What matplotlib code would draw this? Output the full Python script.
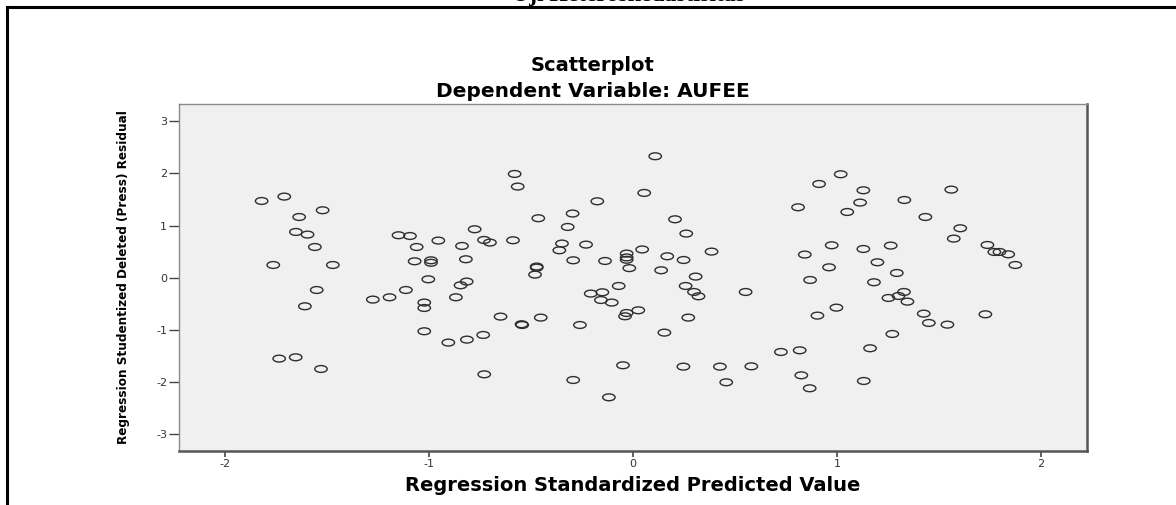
import matplotlib
matplotlib.use('Agg')
import matplotlib.pyplot as plt
from matplotlib import font_manager
from matplotlib.path import Path
from matplotlib.transforms import Affine2D
from matplotlib.lines import Line2D

plt.rcParams['axes.unicode_minus'] = False

# standardized predicted value (x) and studentized deleted residual (y)
pred = [-1.820, -1.709, -1.636, -1.521, -1.652, -1.595, -1.559, -1.763, -1.471, -1.550,
        -1.608, -1.734, -1.653, -1.529, -1.149, -1.093, -1.060, -1.070, -0.990, -0.990,
        -1.003, -1.113, -1.193, -1.275, -1.023, -1.023, -1.023,
        -0.580, -0.565, -0.175, -0.464, -0.296, -0.320, -0.776, -0.954, -0.838, -0.730,
        -0.701, -0.588, -0.348, -0.361, -0.230, -0.819, -0.293, -0.137, -0.031, -0.031,
        -0.031, -0.018, 0.045, -0.472, -0.472, -0.480, -0.815, -0.845, -0.868, -0.070,
        -0.207, -0.150, -0.157, -0.104, -0.031, -0.039, 0.026, -0.649, -0.546, -0.543,
        -0.452, -0.260, -0.905, -0.814, -0.734, -0.729, -0.293, -0.118, -0.049,
        0.109, 0.055, 0.206, 0.261, 0.168, 0.248, 0.385, 0.138, 0.307, 0.258,
        0.299, 0.321, 0.552, 0.271, 0.154, 0.247, 0.426, 0.580, 0.457,
        0.809, 0.912, 1.018, 1.129, 1.113, 1.050, 1.330, 1.560, 1.433, 1.604,
        1.572, 1.737, 1.771, 1.796, 1.839, 1.874, 0.842, 0.974, 1.129, 1.263,
        1.198, 0.961, 1.293, 0.868, 1.181, 0.904, 0.997, 1.252, 1.301, 1.328,
        1.345, 1.425, 1.450, 1.541, 1.727, 1.271, 0.725, 0.817, 1.162, 0.825,
        0.866, 1.131]
resid = [1.472, 1.556, 1.165, 1.294, 0.878, 0.828, 0.590, 0.245, 0.245, -0.234,
         -0.546, -1.549, -1.524, -1.748, 0.815, 0.801, 0.590, 0.316, 0.335, 0.288,
         -0.029, -0.234, -0.374, -0.418, -0.475, -0.579, -1.025,
         1.990, 1.748, 1.466, 1.141, 1.231, 0.974, 0.930, 0.713, 0.610, 0.725,
         0.675, 0.719, 0.656, 0.527, 0.636, 0.355, 0.335, 0.322, 0.464, 0.390,
         0.345, 0.185, 0.543, 0.215, 0.195, 0.061, -0.073, -0.144, -0.374, -0.157,
         -0.303, -0.278, -0.426, -0.475, -0.675, -0.738, -0.623, -0.744, -0.890, -0.905,
         -0.763, -0.905, -1.242, -1.185, -1.096, -1.850, -1.959, -2.291, -1.677,
         2.329, 1.626, 1.121, 0.847, 0.412, 0.341, 0.502, 0.144, 0.023, -0.157,
         -0.272, -0.355, -0.272, -0.763, -1.051, -1.703, -1.703, -1.697, -2.003,
         1.351, 1.798, 1.984, 1.677, 1.441, 1.261, 1.491, 1.690, 1.165, 0.949,
         0.751, 0.629, 0.495, 0.495, 0.450, 0.245, 0.445, 0.623, 0.552, 0.617,
         0.297, 0.201, 0.092, -0.042, -0.086, -0.725, -0.572, -0.387, -0.349, -0.272,
         -0.457, -0.687, -0.866, -0.898, -0.700, -1.077, -1.422, -1.390, -1.351, -1.869,
         -2.118, -1.978]

xticks = [-2, -1, 0, 1, 2]
yticks = [-3, -2, -1, 0, 1, 2, 3]

fig = plt.figure(figsize=(11.76, 5.05), dpi=100)
ax = fig.add_axes([0.1522, 0.1069, 0.7721, 0.6871])
ax.set_facecolor('#f0f0f0')

# SPSS draws flattened circles
ellipse = Path.unit_circle().transformed(Affine2D().scale(1.0, 0.55))
ax.scatter(pred, resid, marker=ellipse, s=80, facecolors='none',
           edgecolors='#2e2e2e', linewidths=1.0, zorder=3)

ax.set_xlim(-2.225, 2.225)
ax.set_ylim(-3.32, 3.33)
ax.set_xticks(xticks)
ax.set_yticks(yticks)
ax.tick_params(axis='y', direction='out', length=7, width=1, color='#444444',
               labelsize=8, labelcolor='#333333', pad=1.5)
ax.tick_params(axis='x', direction='out', length=4, width=1.2, color='#444444',
               labelsize=8, labelcolor='#333333', pad=1.5)

for side in ['left', 'top']:
    ax.spines[side].set_color('#8a8a8a')
    ax.spines[side].set_linewidth(1.0)
for side in ['right', 'bottom']:
    ax.spines[side].set_color('#555555')
    ax.spines[side].set_linewidth(1.8)

ax.set_xlabel('Regression Standardized Predicted Value', fontsize=14,
              fontweight='bold', labelpad=5)

# y label is set in a narrow face in SPSS; pick one if the system has it
narrow = None
for f in font_manager.fontManager.ttflist:
    fn = f.fname.replace('-', '').replace('_', '')
    if ('Narrow' in fn or 'Condensed' in fn) and 'Bold' in fn and 'Italic' not in fn \
            and 'Oblique' not in fn and 'Semi' not in fn and 'Extra' not in fn:
        if narrow is None or 'Liberation' in f.fname:
            narrow = f.fname
if narrow:
    yfont = font_manager.FontProperties(fname=narrow, size=13)
else:
    yfont = font_manager.FontProperties(family='Liberation Sans', weight='bold', size=11)
ylab = fig.text(0.1046, 0.4505, 'Regression Studentized Deleted (Press) Residual',
                rotation=90, ha='center', va='center', fontproperties=yfont)
fig.canvas.draw()
h = ylab.get_window_extent().height
ylab.set_fontsize(yfont.get_size() * 335 / h)

fig.text(0.504, 0.871, 'Scatterplot', ha='center', va='center',
         fontsize=14, fontweight='bold')
fig.text(0.504, 0.818, 'Dependent Variable: AUFEE', ha='center', va='center',
         fontsize=14.5, fontweight='bold')

# heading of the page, cut off at the top edge
fig.text(512 / 1176, 1 - 0.8 / 505, 'Uji Heteroskedastisitas', ha='left',
         va='baseline', fontsize=17, fontweight='bold', family='Liberation Serif')

# page frame
fig.add_artist(Line2D([7 / 1176, 1.0], [1 - 7 / 505, 1 - 7 / 505],
                      transform=fig.transFigure, color='black', lw=2.2))
fig.add_artist(Line2D([7 / 1176, 7 / 1176], [0.0, 1 - 7 / 505],
                      transform=fig.transFigure, color='black', lw=2.2))

plt.savefig('out.png', dpi=100)
